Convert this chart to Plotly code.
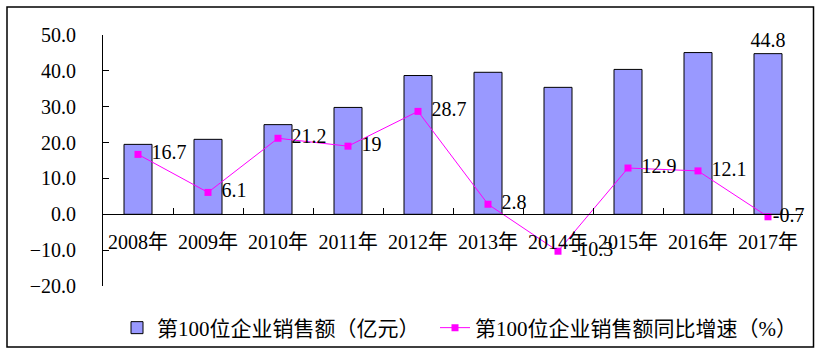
import plotly.graph_objects as go

years = ["2008年", "2009年", "2010年", "2011年", "2012年", "2013年", "2014年", "2015年", "2016年", "2017年"]
sales = [19.5, 20.9, 25.0, 29.8, 38.7, 39.6, 35.4, 40.4, 45.1, 44.8]
growth = [16.7, 6.1, 21.2, 19, 28.7, 2.8, -10.3, 12.9, 12.1, -0.7]
y_ticks = [-20, -10, 0, 10, 20, 30, 40, 50]
bar_name = "第100位企业销售额（亿元）"
line_name = "第100位企业销售额同比增速（%）"

FONT = "Liberation Serif, Noto Sans CJK SC, serif"

W, H = 822, 355
L, R, T, B = 103, 19, 35, 69
ymin, ymax = -20, 50
zero_pos = (0 - ymin) / (ymax - ymin)

bar_text = [""] * (len(sales) - 1) + [f"{sales[-1]}"]
line_text = [f"{v:g}" for v in growth]
# label offset helper: invisible markers push the labels away from the points
label_marker_sizes = [20] * (len(growth) - 1) + [6]

fig = go.Figure()
fig.add_trace(go.Bar(
    x=years, y=sales, name=bar_name, legend="legend",
    marker=dict(color="#9999FF", line=dict(color="black", width=1)),
    text=bar_text, textposition="outside", cliponaxis=False,
    textfont=dict(family=FONT, size=20, color="black"),
    constraintext="none",
))
fig.add_trace(go.Scatter(
    x=years, y=growth, name=line_name, mode="lines+markers", legend="legend2",
    line=dict(color="#FF00FF", width=1),
    marker=dict(symbol="square", size=7, color="#FF00FF"),
))
fig.add_trace(go.Scatter(
    x=years, y=growth, mode="markers+text", showlegend=False, hoverinfo="skip",
    marker=dict(size=label_marker_sizes, color="rgba(0,0,0,0)", opacity=0,
                line=dict(width=0, color="rgba(0,0,0,0)")),
    text=line_text, textposition="middle right", cliponaxis=False,
    textfont=dict(family=FONT, size=20, color="black"),
))

pw = W - L - R
ph = H - T - B
fig.add_shape(type="rect", xref="paper", yref="paper",
              x0=(7 - L) / pw, x1=(813.5 - L) / pw,
              y0=(H - B - 347) / ph, y1=(H - B - 7) / ph,
              line=dict(color="black", width=1.5), fillcolor="rgba(0,0,0,0)", layer="below")

leg_y = (H - B - 328) / ph
leg_common = dict(orientation="h", xanchor="left", y=leg_y, yanchor="middle",
                  font=dict(family=FONT, size=21, color="black"),
                  itemwidth=30, tracegroupgap=0, bgcolor="rgba(0,0,0,0)")

fig.update_layout(
    width=W, height=H,
    margin=dict(l=L, r=R, t=T, b=B, pad=0, autoexpand=False),
    paper_bgcolor="white", plot_bgcolor="white",
    bargap=0.6,
    font=dict(family=FONT, size=20, color="black"),
    showlegend=True,
    legend=dict(x=(117 - L) / pw, **leg_common),
    legend2=dict(x=(435 - L) / pw, **leg_common),
    xaxis=dict(
        type="category", anchor="free", position=zero_pos, automargin=False,
        range=[-0.5, len(years) - 0.5],
        showline=True, linecolor="black", linewidth=1,
        ticks="inside", ticklen=6, tickcolor="black", tickwidth=1,
        tickson="boundaries", showgrid=False, zeroline=False,
        tickangle=0, ticklabelstandoff=10,
        tickfont=dict(family=FONT, size=20, color="black"),
    ),
    yaxis=dict(
        range=[ymin, ymax], tickvals=y_ticks, tickformat=".1f", automargin=False,
        showline=True, linecolor="black", linewidth=1,
        ticks="inside", ticklen=6, tickcolor="black", tickwidth=1,
        showgrid=False, zeroline=False,
        ticklabelstandoff=22,
        tickfont=dict(family=FONT, size=20, color="black"),
    ),
)

fig.write_html("out.html", config={"displayModeBar": False},
               post_script="document.body.style.margin='0';document.body.style.overflow='hidden';")
